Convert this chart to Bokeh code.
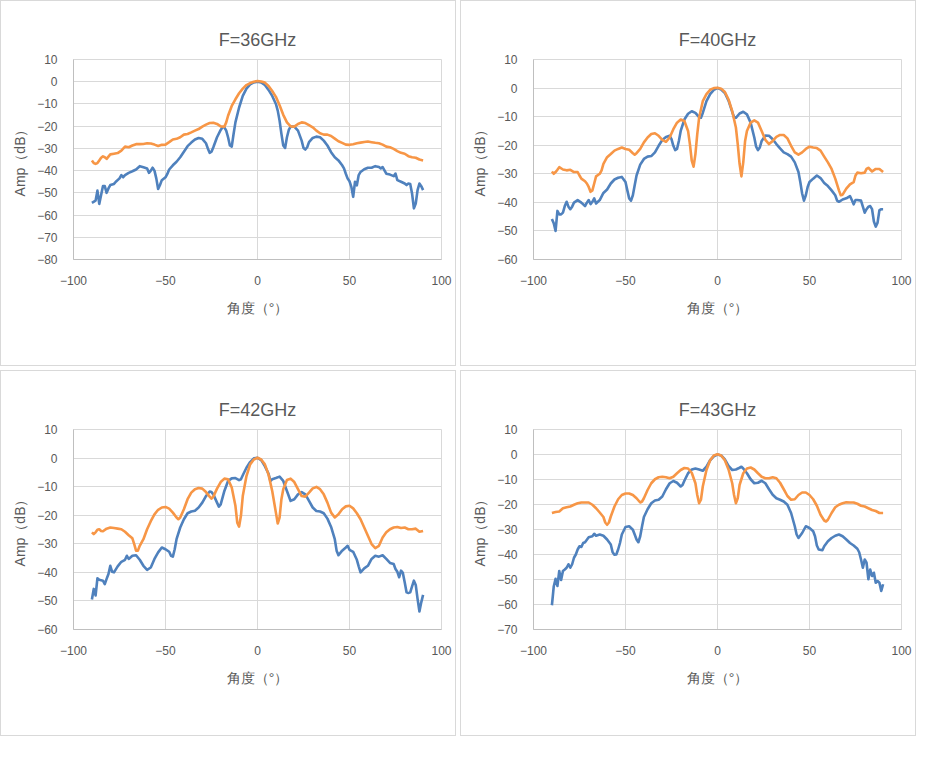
from bokeh.embed import file_html
from bokeh.layouts import gridplot
from bokeh.models import FixedTicker, Legend, LegendItem, Range1d
from bokeh.plotting import figure
from bokeh.resources import INLINE

# --- data: angle (deg) and amplitude (dB) ---
# F = 36 GHz
ang_h_36 = [-90, -88, -87, -86, -85, -84, -83, -82, -81, -80,
            -78, -77, -75, -74, -73, -72, -70, -68, -66, -64,
            -62, -60, -59, -58, -57, -56, -55, -54, -53, -52,
            -50, -49, -48, -46, -44, -42, -40, -38, -36, -34,
            -32, -30, -28, -27, -26, -25, -24, -22, -20, -19,
            -18, -17, -16, -15, -14, -13, -12, -10, -8, -6,
            -4, -2, 0, 2, 4, 6, 8, 10, 11, 12,
            13, 14, 15, 16, 17, 18, 20, 22, 24, 25,
            26, 27, 28, 30, 32, 34, 36, 38, 40, 42,
            44, 46, 47, 48, 49, 50, 51, 52, 53, 54,
            55, 56, 58, 60, 62, 64, 66, 67, 68, 70,
            72, 74, 75, 76, 78, 80, 81, 82, 83, 84,
            85, 86, 87, 88, 89, 90]
amp_h_36 = [-54.5, -53.5, -49, -55, -51, -47, -47, -50, -48, -46.5,
            -46, -45, -43.5, -42, -43, -42, -41, -40.3, -39.5, -38,
            -38.5, -39, -41, -40, -38.7, -40, -43.5, -48.3, -46.5, -44.3,
            -43, -41.5, -39.5, -37.6, -36, -34, -31.5, -29, -27.4, -26,
            -25.3, -25.7, -27.7, -30, -32, -31.5, -29.5, -25, -21.7, -20.5,
            -20.5, -22, -25, -28.7, -29.2, -23.5, -18.3, -11.6, -6.4, -3.1,
            -1.2, -0.3, 0, -0.3, -1.5, -3.7, -6.4, -10, -13, -17.5,
            -23.5, -28.7, -29.8, -25, -21.7, -20.2, -20.2, -22, -26.5, -29.8,
            -30.5, -29.5, -27.2, -25.3, -24.7, -25, -26.5, -28.7, -31.7, -34,
            -35.4, -37.6, -39, -41.4, -43.6, -44.8, -47.3, -51.8, -45, -46.6,
            -42, -40.6, -39.4, -38.7, -38.7, -38, -38.4, -39, -38.4, -41.4,
            -41.8, -42.5, -41.3, -44.3, -45, -45.8, -46.5, -45.8, -46, -50.3,
            -57, -54.8, -48.8, -45.8, -47, -48.8]
ang_e_36 = [-90, -89, -88, -87, -86, -85, -84, -83, -82, -80,
            -78, -76, -74, -72, -70, -68, -66, -64, -62, -60,
            -58, -56, -54, -52, -50, -48, -46, -44, -42, -40,
            -38, -36, -34, -32, -30, -28, -26, -24, -22, -20,
            -18, -17, -16, -14, -12, -10, -8, -6, -4, -2,
            0, 2, 4, 6, 8, 10, 12, 14, 16, 18,
            20, 22, 24, 26, 28, 30, 32, 34, 36, 38,
            40, 42, 44, 46, 48, 50, 52, 54, 56, 58,
            60, 62, 64, 66, 68, 70, 72, 74, 76, 78,
            80, 82, 84, 86, 88, 90]
amp_e_36 = [-35.4, -36.6, -37, -36.6, -35.4, -34.2, -33.6, -34, -34.7, -32.7,
            -32.4, -32.1, -31, -29.2, -29.5, -28.7, -28.1, -28.1, -28, -27.7,
            -27.8, -28.3, -28.9, -28.4, -28.3, -27.2, -26, -25.7, -25, -23.8,
            -23.5, -22.8, -22, -21.3, -20.2, -19.3, -18.6, -18.5, -19, -20.1,
            -20.2, -18.3, -15.3, -10.9, -7.9, -5.2, -3.1, -1.5, -0.6, 0,
            0.3, 0.1, -0.4, -1.9, -4.2, -6.8, -10.6, -14.9, -18.3, -20.1,
            -20.2, -19, -18.3, -18.6, -19.5, -20.5, -22, -23.2, -23.8, -23.8,
            -24.4, -25.6, -26.8, -27.5, -28.3, -28.4, -28.1, -27.7, -27.4, -27.1,
            -26.9, -27.2, -27.5, -27.7, -28.3, -29.2, -29.5, -30.2, -31.2, -32,
            -32.4, -33.5, -34, -34.2, -35, -35.4]

# F = 40 GHz
ang_h_40 = [-90, -89, -88, -87, -86, -85, -84, -83, -82, -81,
            -80, -79, -78, -76, -74, -72, -71, -70, -69, -68,
            -67, -66, -64, -62, -60, -58, -56, -54, -52, -50,
            -49, -48, -47, -46, -45, -44, -42, -40, -38, -36,
            -34, -32, -30, -28, -26, -25, -24, -23, -22, -21,
            -20, -18, -16, -14, -12, -10, -9, -8, -6, -4,
            -2, 0, 2, 4, 6, 8, 9, 10, 12, 14,
            16, 18, 20, 21, 22, 23, 24, 26, 28, 30,
            32, 34, 36, 38, 40, 42, 44, 45, 46, 47,
            48, 49, 50, 52, 54, 56, 58, 60, 62, 64,
            65, 66, 68, 70, 72, 73, 74, 75, 76, 78,
            79, 80, 81, 82, 83, 84, 85, 86, 87, 88,
            89, 90]
amp_h_40 = [-45.8, -47.3, -50, -43, -44.2, -44.2, -43.6, -41.3, -39.8, -41.5,
            -42.4, -41.5, -40.1, -39.2, -40.1, -41.3, -40.1, -39.2, -40.6, -39.8,
            -38.6, -40.4, -39.2, -36.7, -35.5, -33.4, -32, -31.4, -31.1, -32.9,
            -35.8, -38.6, -39.4, -37.5, -34, -30.6, -26.8, -24.8, -24, -23.8,
            -22.5, -20.2, -18.2, -17.1, -16.7, -17.9, -20.2, -21.7, -21.3, -18.5,
            -15, -11, -9, -8.1, -8.7, -10.2, -10.4, -8.7, -4.6, -2.1,
            -0.6, 0, -0.5, -1.7, -4.4, -8.3, -10.2, -10.4, -8.9, -8.3,
            -9.2, -12.1, -17.3, -20.5, -21.7, -20.8, -18.5, -16.6, -16.7, -17.9,
            -19.6, -21.1, -22.5, -23.1, -24, -26, -29.4, -32.9, -36.9, -39.4,
            -37.5, -34.6, -32.9, -31.7, -30.6, -31.5, -33.2, -34.3, -35.8, -37.5,
            -39.4, -39.8, -39, -38.6, -37.8, -39.2, -40.7, -39.2, -39.2, -39.4,
            -41.5, -43.6, -42.4, -41.5, -41.3, -42.4, -46.7, -48.5, -47.1, -42.7,
            -42.4, -42.4]
ang_e_40 = [-90, -89, -88, -87, -86, -84, -82, -80, -78, -76,
            -75, -74, -72, -71, -70, -69, -68, -67, -66, -64,
            -63, -62, -60, -58, -56, -54, -52, -50, -48, -46,
            -45, -44, -42, -40, -38, -36, -34, -32, -30, -28,
            -26, -24, -22, -20, -18, -16, -15, -14, -13, -12,
            -11, -10, -8, -6, -4, -2, 0, 2, 4, 6,
            8, 10, 11, 12, 13, 14, 15, 16, 18, 20,
            22, 24, 26, 28, 30, 32, 34, 36, 38, 40,
            42, 44, 46, 48, 50, 52, 54, 56, 58, 60,
            62, 64, 66, 67, 68, 70, 72, 74, 75, 76,
            78, 80, 81, 82, 84, 86, 88, 90]
amp_e_40 = [-29.2, -30, -29.4, -28.6, -27.7, -28.5, -28.8, -28.6, -29.4, -29.4,
            -30.6, -31.7, -32.6, -33.4, -34.6, -36.3, -35.8, -33.4, -30.9, -30,
            -28.8, -26.5, -24.2, -23.1, -21.9, -21.3, -20.8, -21.3, -21.6, -22.8,
            -23.3, -22.8, -21.3, -19, -17.3, -16.1, -15.8, -16.7, -18.1, -18.8,
            -17.3, -14.4, -12.1, -11, -11.5, -15, -19.6, -25.4, -27.5, -23.1,
            -16.1, -10.4, -4.6, -2.1, -0.6, 0, 0.1, -0.2, -1.4, -4,
            -8.1, -13.8, -19.6, -26.5, -30.9, -26, -18.5, -15, -12.1, -11.3,
            -12.1, -15, -18.1, -19.6, -18.5, -17.1, -16.4, -16.4, -17.6, -20.2,
            -22.5, -23.3, -22.5, -21.3, -20.5, -20.8, -21, -21.9, -24, -26,
            -28.3, -31.7, -35.8, -37.5, -37.3, -35.2, -33.7, -32.9, -30.6, -29.6,
            -29.8, -29.6, -28.3, -27.9, -29.2, -28.3, -28.3, -29.4]

# F = 42 GHz
ang_h_42 = [-90, -89, -88, -87, -86, -84, -83, -82, -81, -80,
            -79, -78, -76, -74, -72, -71, -70, -68, -66, -64,
            -62, -60, -58, -56, -54, -52, -50, -48, -47, -46,
            -45, -44, -42, -40, -38, -36, -34, -32, -30, -28,
            -26, -25, -24, -22, -21, -20, -18, -16, -14, -12,
            -10, -9, -8, -6, -4, -2, 0, 2, 4, 6,
            7, 8, 10, 12, 14, 16, 18, 20, 22, 24,
            26, 28, 30, 32, 34, 36, 38, 40, 42, 43,
            44, 46, 48, 49, 50, 52, 54, 55, 56, 58,
            60, 62, 64, 66, 68, 70, 72, 74, 75, 76,
            77, 78, 79, 80, 81, 82, 83, 84, 85, 86,
            87, 88, 89, 90]
amp_h_42 = [-49.5, -45.8, -48.1, -42.1, -42.6, -42.9, -44.1, -42.3, -40.6, -37.7,
            -39.8, -40, -37.9, -36.3, -35.6, -34.2, -35.3, -34.2, -34, -35.6,
            -37.7, -39.1, -38.3, -35.3, -33, -31.3, -31.9, -32.8, -34.2, -34.5,
            -31.9, -28.4, -24.3, -21.4, -19.3, -18.7, -18.4, -17.3, -15.6, -13.3,
            -11.7, -11.9, -12.7, -15.6, -17, -16.2, -11.5, -8, -7.1, -7,
            -7.7, -7.4, -6, -3.4, -1.4, -0.1, 0.1, -0.7, -2.8, -5.5,
            -8, -7.4, -7, -6.5, -8, -11.5, -15, -14.4, -12.7, -11.9,
            -12.7, -15, -17.3, -18.5, -18.7, -19.3, -21.2, -24.1, -28.4, -32.4,
            -34, -32.4, -31.3, -30.7, -32.1, -32.8, -35.6, -37.9, -40, -38.6,
            -37.7, -35.3, -34.2, -34.5, -34, -35.3, -36.7, -37.1, -38.8, -39.8,
            -41.7, -39.4, -40.2, -43.5, -47, -47.2, -47, -44.9, -42.9, -44.4,
            -49.3, -53.7, -50.5, -47.9]
ang_e_42 = [-90, -89, -88, -87, -86, -85, -84, -82, -80, -78,
            -76, -74, -72, -70, -68, -67, -66, -65, -64, -62,
            -60, -58, -56, -54, -52, -50, -48, -46, -44, -43,
            -42, -40, -38, -36, -34, -32, -30, -28, -26, -25,
            -24, -22, -20, -18, -16, -14, -12, -11, -10, -9,
            -8, -6, -4, -2, 0, 2, 4, 6, 8, 10,
            11, 12, 13, 14, 16, 18, 20, 22, 24, 26,
            28, 30, 32, 34, 36, 38, 40, 42, 44, 46,
            48, 50, 52, 54, 56, 58, 60, 62, 64, 66,
            68, 70, 72, 74, 76, 78, 80, 82, 84, 86,
            88, 90]
amp_e_42 = [-26, -26.6, -26, -25.1, -24.9, -25.5, -25.6, -24.7, -24.3, -24.5,
            -24.7, -24.9, -25.8, -27, -28.1, -30.1, -32.4, -32.4, -30.7, -28.4,
            -24.9, -22.1, -19.7, -18.1, -17.3, -17.1, -17.7, -19.1, -20.8, -21.4,
            -20.8, -17.9, -14.4, -12.1, -10.9, -10.5, -10.7, -11.9, -13.5, -14.2,
            -13.5, -10.7, -8.4, -7.2, -7.4, -10.3, -16.7, -22.6, -24, -20.2,
            -13.3, -6.3, -2.2, -0.5, 0.1, -0.5, -2.2, -5.8, -11.5, -19.1,
            -22.9, -20.8, -14.4, -10.9, -7.7, -7.2, -8.4, -10.9, -13.3, -13.5,
            -12.1, -10.6, -10.1, -10.9, -12.7, -15.6, -19.1, -20.8, -19.7, -17.9,
            -16.9, -16.7, -17.6, -19.3, -21.4, -24.3, -27.2, -30.1, -31.5, -30.7,
            -27.8, -26, -24.9, -24.3, -24.1, -24.5, -24.3, -24.9, -24.9, -24.7,
            -25.8, -25.5]

# F = 43 GHz
ang_h_43 = [-90, -89.5, -89, -88, -87, -86, -85, -84, -83, -82,
            -81, -80, -79, -78, -77, -76, -75, -74, -73, -72,
            -70, -68, -67, -66, -64, -62, -60, -58, -57, -56,
            -55, -54, -53, -52, -50, -48, -46, -45, -44, -43,
            -42, -41, -40, -38, -36, -34, -32, -30, -28, -26,
            -24, -22, -20, -19, -18, -16, -14, -12, -10, -8,
            -6, -4, -2, 0, 2, 4, 6, 8, 10, 12,
            13, 14, 16, 18, 20, 22, 24, 26, 28, 30,
            32, 34, 36, 38, 40, 42, 43, 44, 46, 48,
            50, 52, 53, 54, 55, 57, 58, 60, 62, 64,
            66, 68, 70, 72, 74, 76, 77, 78, 79, 80,
            81, 82, 83, 84, 85, 86, 87, 88, 89, 90]
amp_h_43 = [-60.3, -56.6, -52.8, -49.7, -52.6, -46.6, -50.2, -46.6, -46, -45.3,
            -43.9, -45.3, -43.9, -41.3, -40, -38, -36.7, -37, -35.4, -35.1,
            -33.1, -32.7, -31.7, -32.5, -32, -32.5, -34, -36, -39.1, -40.1,
            -40, -38, -35.4, -32, -29, -28.7, -30.1, -32, -34, -35.1,
            -32.7, -28.7, -25, -21.9, -19.5, -18.4, -18.1, -16.8, -13.9, -11.5,
            -10.6, -11.3, -12.8, -12.2, -10.5, -7.5, -6, -5.6, -6, -6.5,
            -4.9, -2.3, -0.7, 0, -0.4, -2, -4.6, -6.2, -6, -5.3,
            -4.9, -5.6, -7.5, -9.9, -11.5, -11.3, -10.5, -11.5, -13.9, -16.1,
            -17.5, -18.1, -18.8, -20.1, -23.4, -28.7, -32, -33.4, -31.4, -28.7,
            -29.4, -30.7, -32.7, -36.4, -38, -38.3, -36.7, -34.7, -33.4, -32.5,
            -32, -32.7, -34, -35.4, -36.4, -37.7, -39.1, -42, -45.3, -42,
            -43.3, -49.9, -46, -48.6, -47.3, -51.3, -50.6, -51.3, -54.6, -51.9]
ang_e_43 = [-90, -88, -86, -84, -82, -80, -78, -76, -74, -72,
            -70, -68, -66, -64, -62, -61, -60, -59, -58, -56,
            -54, -52, -50, -48, -46, -44, -42, -41, -40, -38,
            -36, -34, -32, -30, -28, -26, -24, -22, -20, -18,
            -16, -14, -12, -11, -10, -9, -8, -6, -4, -2,
            0, 2, 4, 6, 8, 9, 10, 11, 12, 14,
            16, 18, 20, 22, 24, 26, 28, 30, 32, 34,
            36, 38, 40, 42, 44, 46, 48, 50, 52, 54,
            56, 58, 59, 60, 62, 64, 66, 68, 70, 72,
            74, 76, 78, 80, 82, 84, 86, 88, 90]
amp_e_43 = [-23.4, -23, -22.8, -21.5, -21.1, -20.8, -20.1, -19.5, -19.2, -19.2,
            -19.2, -20.1, -21.5, -23.2, -25, -27.2, -28.1, -27.2, -24.8, -20.8,
            -17.9, -16.2, -15.6, -15.6, -16.2, -17.5, -19.2, -18.8, -17.5, -14.2,
            -11.5, -9.9, -9.1, -8.9, -9.1, -9.5, -8.9, -7.5, -6.2, -5.4,
            -5.6, -7.3, -11.5, -16.2, -19.5, -18.1, -12.8, -6.2, -2.3, -0.4,
            0.1, -0.4, -2.3, -6, -11.5, -16.2, -19.5, -17.5, -12.2, -7.5,
            -5.6, -5.2, -6, -7.5, -8.9, -9.5, -9.5, -9.1, -9.5, -11.3,
            -13.9, -16.6, -18.1, -17.9, -16.2, -15.2, -15.2, -16.2, -17.9, -20.5,
            -24.1, -26.4, -26.8, -26.1, -23.4, -21.1, -20.1, -19.5, -19.1, -19.2,
            -19.2, -19.7, -20.5, -20.8, -21.5, -22.2, -22.6, -23.4, -23.4]

titles = ["F=36GHz", "F=40GHz", "F=42GHz", "F=43GHz"]
y_bottoms = [-80, -60, -60, -70]
x_ticks = [-100, -50, 0, 50, 100]
series_names = ["H面", "E面"]

BLUE = "#4F81BD"
ORANGE = "#F79646"
GREY_TEXT = "#595959"
GRID = "#d9d9d9"


def make_panel(title, y_min, ang_h, amp_h, ang_e, amp_e):
    p = figure(width=456, height=366, title=title,
               x_range=Range1d(-100, 100), y_range=Range1d(y_min, 10),
               output_backend="svg", toolbar_location=None,
               min_border_left=72, min_border_right=16,
               min_border_top=58, min_border_bottom=108)
    p.styles = {"border": "1px solid #d9d9d9"}

    p.title.align = "center"
    p.title.text_font_size = "18px"
    p.title.text_font_style = "normal"
    p.title.text_color = GREY_TEXT
    p.title.standoff = 20

    p.xaxis.ticker = FixedTicker(ticks=x_ticks)
    p.yaxis.ticker = FixedTicker(ticks=list(range(y_min, 11, 10)))
    for ax in (p.xaxis, p.yaxis):
        ax.major_tick_line_color = None
        ax.minor_tick_line_color = None
        ax.major_label_text_font_size = "12px"
        ax.major_label_text_color = GREY_TEXT
        ax.axis_label_text_font_size = "14px"
        ax.axis_label_text_font_style = "normal"
        ax.axis_label_text_color = GREY_TEXT
        ax.axis_line_color = "#bfbfbf"
    p.xaxis.axis_label = "角度（°）"
    p.yaxis.axis_label = "Amp（dB）"
    p.xaxis.major_label_standoff = 10
    p.yaxis.major_label_standoff = 10
    p.xaxis.axis_label_standoff = 12
    p.yaxis.axis_label_standoff = 6

    p.grid.grid_line_color = GRID
    p.outline_line_color = GRID

    rh = p.line(ang_h, amp_h, line_color=BLUE, line_width=2.6, line_join="round")
    re = p.line(ang_e, amp_e, line_color=ORANGE, line_width=2.6, line_join="round")

    # legend kept in the centre layer, pushed below the frame in screen px
    legend = Legend(items=[LegendItem(label=series_names[0], renderers=[rh]),
                           LegendItem(label=series_names[1], renderers=[re])],
                    orientation="horizontal", location=(100, -104),
                    border_line_color=None, background_fill_alpha=0,
                    label_text_font_size="13px",
                    label_text_color=GREY_TEXT, glyph_width=35,
                    label_standoff=5, spacing=10, padding=6, margin=0)
    p.add_layout(legend)
    return p


p1 = make_panel(titles[0], y_bottoms[0], ang_h_36, amp_h_36, ang_e_36, amp_e_36)
p2 = make_panel(titles[1], y_bottoms[1], ang_h_40, amp_h_40, ang_e_40, amp_e_40)
p3 = make_panel(titles[2], y_bottoms[2], ang_h_42, amp_h_42, ang_e_42, amp_e_42)
p4 = make_panel(titles[3], y_bottoms[3], ang_h_43, amp_h_43, ang_e_43, amp_e_43)

grid = gridplot([[p1, p2], [p3, p4]], toolbar_location=None)
grid.spacing = 4

open("out.html", "w").write(file_html(grid, INLINE))
